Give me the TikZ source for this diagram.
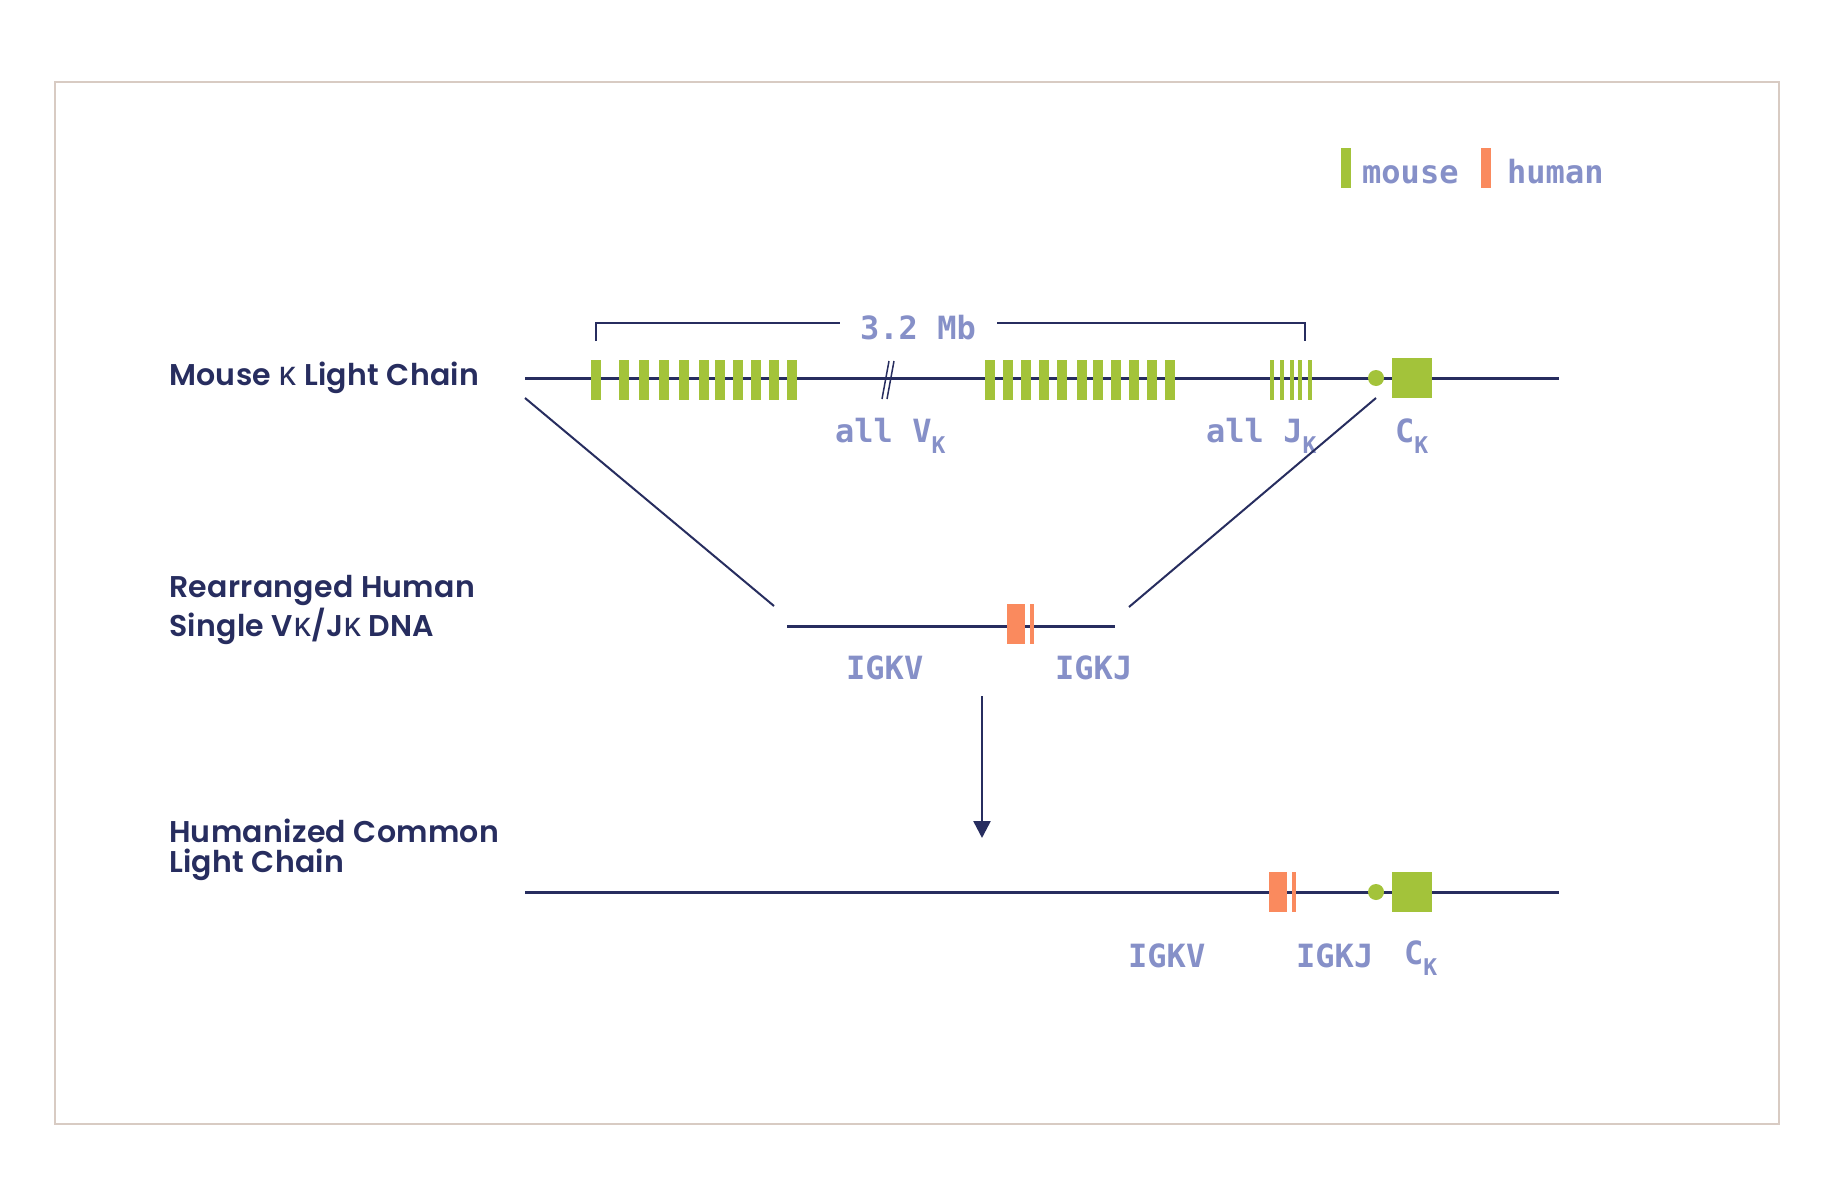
\documentclass[tikz,border=0pt]{standalone}
\usepackage{fontspec}
\setmainfont{Poppins}[BoldFont={Poppins SemiBold}]
\newfontfamily\monof{DejaVu Sans Mono}
\newfontfamily\greekf{Noto Sans}
\usetikzlibrary{arrows.meta}
\definecolor{navy}{HTML}{272D5F}
\definecolor{lav}{HTML}{8690C8}
\definecolor{mgreen}{HTML}{A3C33A}
\definecolor{horange}{HTML}{FA8A5E}
\definecolor{framec}{HTML}{D8CBC3}
\newcommand{\kapsub}{\raisebox{-11pt}{\fontsize{23}{23}\selectfont K}}
\newcommand{\kap}{{\greekf\fontsize{34}{36}\selectfont κ}}
\tikzset{
  dna/.style={draw=navy, line width=3pt},
  thin/.style={draw=navy, line width=2pt},
  mono/.style={text=lav, inner sep=0pt, anchor=base west, font=\monof\bfseries\fontsize{32}{36}\selectfont},
  lbl/.style={text=navy, inner sep=0pt, anchor=base west, font=\bfseries\fontsize{30}{36}\selectfont\addfontfeature{LetterSpace=1}},
  gbar/.style={fill=mgreen, draw=none},
  obar/.style={fill=horange, draw=none},
}
\begin{document}
\begin{tikzpicture}[x=1pt,y=-1pt]
\useasboundingbox (0,0) rectangle (1840,1180);
\fill[white] (0,0) rectangle (1840,1180);
\draw[framec, line width=2pt] (55,82) rectangle (1779,1124);

% legend
\fill[gbar] (1341,148) rectangle (1351,188);
\node[mono] (legm) at (1362,183) {mouse};
\fill[obar] (1481,148) rectangle (1491,188);
\node[mono] (legh) at (1507,183) {human};

% left labels
\node[lbl] (l1) at (169,385) {Mouse \kap{} Light Chain};
\node[lbl] (l2a) at (169,597) {Rearranged Human};
\node[lbl] (l2b) at (169,636) {Single V\kap/J\kap{} DNA};
\node[lbl] (l3a) at (169,842) {Humanized Common};
\node[lbl] (l3b) at (169,872) {Light Chain};

% mouse locus
\coordinate (m0) at (525,378);
\coordinate (m1) at (1559,378);
\draw[dna] (m0) -- (m1);
\foreach \x in {591,619,639,659,679,699,715,733,751,769,787}
  \fill[gbar] (\x,360) rectangle ++(10,40);
\foreach \x in {985,1003,1021,1039,1057,1077,1093,1111,1129,1147,1165}
  \fill[gbar] (\x,360) rectangle ++(10,40);
\foreach \x in {1270,1280,1290,1298,1308}
  \fill[gbar] (\x,360) rectangle ++(4,40);
\draw[navy, line width=1.5pt] (882,399) -- (889,361) (887,399) -- (894,361);
\fill[mgreen] (1376,378) circle (8);
\fill[gbar] (1392,358) rectangle (1432,398);

% bracket
\coordinate (b0) at (596,341);
\coordinate (b3) at (1305,341);
\node[mono, anchor=base] (mb) at (918,339) {3.2 Mb};
\draw[thin] (b0) -- (596,323) -- (840,323);
\draw[thin] (997,323) -- (1305,323) -- (b3);

\node[mono] (allv) at (835,442) {all V\kapsub};
\node[mono] (allj) at (1206,442) {all J\kapsub};
\node[mono] (ck1) at (1395,442) {C\kapsub};

% rearranged
\coordinate (d0) at (525,398);
\coordinate (d1) at (774,606);
\coordinate (d2) at (1129,607);
\coordinate (d3) at (1376,398);
\draw[thin] (d0) -- (d1);
\draw[thin] (d2) -- (d3);
\coordinate (r0) at (787,626);
\coordinate (r1) at (1115,626);
\draw[dna] (r0) -- (r1);
\fill[obar] (1007,604) rectangle (1025,644);
\fill[obar] (1030,604) rectangle (1034,644);
\node[mono] (igkv1) at (846,679) {IGKV};
\node[mono] (igkj1) at (1055,679) {IGKJ};

% arrow
\coordinate (a0) at (982,696);
\coordinate (a1) at (982,838);
\draw[navy, line width=2.5pt, -{Triangle[width=17pt,length=17pt]}] (a0) -- (a1);

% humanized
\coordinate (h0) at (525,892);
\coordinate (h1) at (1559,892);
\draw[dna] (h0) -- (h1);
\fill[obar] (1269,872) rectangle (1287,912);
\fill[obar] (1292,872) rectangle (1296,912);
\fill[mgreen] (1376,892) circle (8);
\fill[gbar] (1392,872) rectangle (1432,912);
\node[mono] (igkv2) at (1128,967) {IGKV};
\node[mono] (igkj2) at (1296,967) {IGKJ};
\node[mono] (ck2) at (1404,964) {C\kapsub};
\end{tikzpicture}
\end{document}
